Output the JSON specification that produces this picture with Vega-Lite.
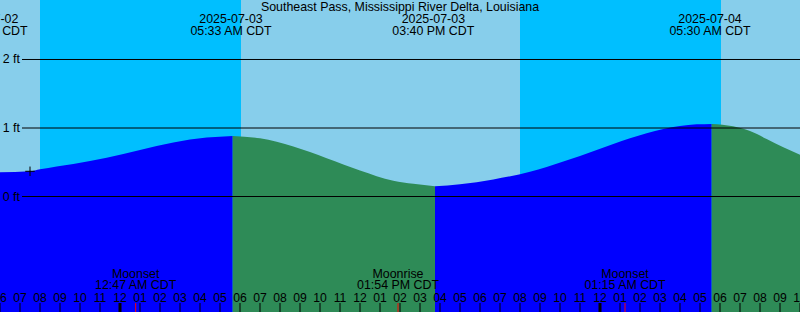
{
  "$schema": "https://vega.github.io/schema/vega-lite/v6.json",
  "width": 800,
  "height": 312,
  "autosize": {"type": "none"},
  "padding": 0,
  "background": "white",
  "datasets": {
    "bands": [
      {"start": "2025-07-02T18:00:00Z", "end": "2025-07-02T20:00:00Z", "kind": "day"},
      {"start": "2025-07-02T20:00:00Z", "end": "2025-07-03T06:03:00Z", "kind": "night"},
      {"start": "2025-07-03T06:03:00Z", "end": "2025-07-03T20:00:00Z", "kind": "day"},
      {"start": "2025-07-03T20:00:00Z", "end": "2025-07-04T06:03:00Z", "kind": "night"},
      {"start": "2025-07-04T06:03:00Z", "end": "2025-07-04T10:00:00Z", "kind": "day"}
    ],
    "tide": [
      {"t": "2025-07-02T18:00:00Z", "h": 0.353, "seg": 1, "kind": "rise"},
      {"t": "2025-07-02T19:30:00Z", "h": 0.368, "seg": 1, "kind": "rise"},
      {"t": "2025-07-02T20:00:00Z", "h": 0.397, "seg": 1, "kind": "rise"},
      {"t": "2025-07-02T21:40:00Z", "h": 0.475, "seg": 1, "kind": "rise"},
      {"t": "2025-07-02T23:20:00Z", "h": 0.567, "seg": 1, "kind": "rise"},
      {"t": "2025-07-03T01:00:00Z", "h": 0.68, "seg": 1, "kind": "rise"},
      {"t": "2025-07-03T02:40:00Z", "h": 0.79, "seg": 1, "kind": "rise"},
      {"t": "2025-07-03T04:20:00Z", "h": 0.86, "seg": 1, "kind": "rise"},
      {"t": "2025-07-03T05:38:00Z", "h": 0.885, "seg": 1, "kind": "rise"},
      {"t": "2025-07-03T05:38:00Z", "h": 0.885, "seg": 2, "kind": "fall"},
      {"t": "2025-07-03T07:00:00Z", "h": 0.85, "seg": 2, "kind": "fall"},
      {"t": "2025-07-03T08:40:00Z", "h": 0.73, "seg": 2, "kind": "fall"},
      {"t": "2025-07-03T10:20:00Z", "h": 0.56, "seg": 2, "kind": "fall"},
      {"t": "2025-07-03T12:00:00Z", "h": 0.38, "seg": 2, "kind": "fall"},
      {"t": "2025-07-03T13:40:00Z", "h": 0.23, "seg": 2, "kind": "fall"},
      {"t": "2025-07-03T14:40:00Z", "h": 0.185, "seg": 2, "kind": "fall"},
      {"t": "2025-07-03T15:45:00Z", "h": 0.15, "seg": 2, "kind": "fall"},
      {"t": "2025-07-03T15:45:00Z", "h": 0.15, "seg": 3, "kind": "rise"},
      {"t": "2025-07-03T17:00:00Z", "h": 0.18, "seg": 3, "kind": "rise"},
      {"t": "2025-07-03T18:40:00Z", "h": 0.25, "seg": 3, "kind": "rise"},
      {"t": "2025-07-03T20:30:00Z", "h": 0.36, "seg": 3, "kind": "rise"},
      {"t": "2025-07-03T22:10:00Z", "h": 0.51, "seg": 3, "kind": "rise"},
      {"t": "2025-07-03T23:50:00Z", "h": 0.68, "seg": 3, "kind": "rise"},
      {"t": "2025-07-04T01:30:00Z", "h": 0.85, "seg": 3, "kind": "rise"},
      {"t": "2025-07-04T03:10:00Z", "h": 0.985, "seg": 3, "kind": "rise"},
      {"t": "2025-07-04T04:50:00Z", "h": 1.053, "seg": 3, "kind": "rise"},
      {"t": "2025-07-04T05:35:00Z", "h": 1.06, "seg": 3, "kind": "rise"},
      {"t": "2025-07-04T05:35:00Z", "h": 1.06, "seg": 4, "kind": "fall"},
      {"t": "2025-07-04T06:39:00Z", "h": 1.025, "seg": 4, "kind": "fall"},
      {"t": "2025-07-04T07:30:00Z", "h": 0.955, "seg": 4, "kind": "fall"},
      {"t": "2025-07-04T08:20:00Z", "h": 0.84, "seg": 4, "kind": "fall"},
      {"t": "2025-07-04T09:10:00Z", "h": 0.72, "seg": 4, "kind": "fall"},
      {"t": "2025-07-04T10:00:00Z", "h": 0.61, "seg": 4, "kind": "fall"}
    ],
    "levels": [
      {"ft": 0, "label": "0 ft"},
      {"ft": 1, "label": "1 ft"},
      {"ft": 2, "label": "2 ft"}
    ],
    "hours": [
      {"t": "2025-07-02T18:00:00Z", "label": "06"},
      {"t": "2025-07-02T19:00:00Z", "label": "07"},
      {"t": "2025-07-02T20:00:00Z", "label": "08"},
      {"t": "2025-07-02T21:00:00Z", "label": "09"},
      {"t": "2025-07-02T22:00:00Z", "label": "10"},
      {"t": "2025-07-02T23:00:00Z", "label": "11"},
      {"t": "2025-07-03T00:00:00Z", "label": "12"},
      {"t": "2025-07-03T01:00:00Z", "label": "01"},
      {"t": "2025-07-03T02:00:00Z", "label": "02"},
      {"t": "2025-07-03T03:00:00Z", "label": "03"},
      {"t": "2025-07-03T04:00:00Z", "label": "04"},
      {"t": "2025-07-03T05:00:00Z", "label": "05"},
      {"t": "2025-07-03T06:00:00Z", "label": "06"},
      {"t": "2025-07-03T07:00:00Z", "label": "07"},
      {"t": "2025-07-03T08:00:00Z", "label": "08"},
      {"t": "2025-07-03T09:00:00Z", "label": "09"},
      {"t": "2025-07-03T10:00:00Z", "label": "10"},
      {"t": "2025-07-03T11:00:00Z", "label": "11"},
      {"t": "2025-07-03T12:00:00Z", "label": "12"},
      {"t": "2025-07-03T13:00:00Z", "label": "01"},
      {"t": "2025-07-03T14:00:00Z", "label": "02"},
      {"t": "2025-07-03T15:00:00Z", "label": "03"},
      {"t": "2025-07-03T16:00:00Z", "label": "04"},
      {"t": "2025-07-03T17:00:00Z", "label": "05"},
      {"t": "2025-07-03T18:00:00Z", "label": "06"},
      {"t": "2025-07-03T19:00:00Z", "label": "07"},
      {"t": "2025-07-03T20:00:00Z", "label": "08"},
      {"t": "2025-07-03T21:00:00Z", "label": "09"},
      {"t": "2025-07-03T22:00:00Z", "label": "10"},
      {"t": "2025-07-03T23:00:00Z", "label": "11"},
      {"t": "2025-07-04T00:00:00Z", "label": "12"},
      {"t": "2025-07-04T01:00:00Z", "label": "01"},
      {"t": "2025-07-04T02:00:00Z", "label": "02"},
      {"t": "2025-07-04T03:00:00Z", "label": "03"},
      {"t": "2025-07-04T04:00:00Z", "label": "04"},
      {"t": "2025-07-04T05:00:00Z", "label": "05"},
      {"t": "2025-07-04T06:00:00Z", "label": "06"},
      {"t": "2025-07-04T07:00:00Z", "label": "07"},
      {"t": "2025-07-04T08:00:00Z", "label": "08"},
      {"t": "2025-07-04T09:00:00Z", "label": "09"},
      {"t": "2025-07-04T10:00:00Z", "label": "10"}
    ],
    "tideEvents": [
      {"t": "2025-07-02T17:20:00Z", "label": "2025-07-02\n05:20 PM CDT"},
      {"t": "2025-07-03T05:33:00Z", "label": "2025-07-03\n05:33 AM CDT"},
      {"t": "2025-07-03T15:40:00Z", "label": "2025-07-03\n03:40 PM CDT"},
      {"t": "2025-07-04T05:30:00Z", "label": "2025-07-04\n05:30 AM CDT"}
    ],
    "moonEvents": [
      {"t": "2025-07-03T00:47:00Z", "label": "Moonset\n12:47 AM CDT"},
      {"t": "2025-07-03T13:54:00Z", "label": "Moonrise\n01:54 PM CDT"},
      {"t": "2025-07-04T01:15:00Z", "label": "Moonset\n01:15 AM CDT"}
    ],
    "midnights": [
      {"t": "2025-07-03T00:00:00Z"},
      {"t": "2025-07-04T00:00:00Z"}
    ],
    "now": [
      {"t": "2025-07-02T19:30:00Z", "h": 0.368}
    ],
    "station": [
      {"t": "2025-07-03T14:00:00Z", "name": "Southeast Pass, Mississippi River Delta, Louisiana"}
    ]
  },
  "layer": [
    {
      "data": {"name": "bands"},
      "mark": {"type": "rect"},
      "encoding": {
        "x": {"field": "start", "type": "temporal", "axis": null,
          "scale": {"type": "utc", "domain": [{"year": 2025, "month": 7, "date": 2, "hours": 18, "utc": true}, {"year": 2025, "month": 7, "date": 4, "hours": 10, "utc": true}]}},
        "x2": {"field": "end"},
        "color": {"field": "kind", "type": "nominal", "legend": null,
          "scale": {"domain": ["day", "night", "rise", "fall"], "range": ["#87CEEB", "#00BFFF", "#0000FF", "#2E8B57"]}}
      }
    },
    {
      "data": {"name": "tide"},
      "mark": {"type": "area", "interpolate": "monotone"},
      "encoding": {
        "x": {"field": "t", "type": "temporal", "axis": null},
        "y": {"field": "h", "type": "quantitative", "axis": null, "scale": {"domain": [-1.6861, 2.8686], "nice": false, "zero": false}},
        "y2": {"datum": -1.6861},
        "detail": {"field": "seg"},
        "color": {"field": "kind", "type": "nominal", "legend": null}
      }
    },
    {
      "data": {"name": "levels"},
      "mark": {"type": "rule", "color": "black", "strokeWidth": 1},
      "encoding": {
        "x": {"datum": {"year": 2025, "month": 7, "date": 2, "hours": 19, "minutes": 6, "utc": true}, "type": "temporal", "axis": null},
        "x2": {"datum": {"year": 2025, "month": 7, "date": 4, "hours": 10, "utc": true}},
        "y": {"field": "ft", "type": "quantitative", "axis": null}
      }
    },
    {
      "data": {"name": "levels"},
      "mark": {"type": "text", "align": "left", "baseline": "middle", "font": "Liberation Sans", "fontSize": 12.4, "color": "black"},
      "encoding": {
        "x": {"datum": {"year": 2025, "month": 7, "date": 2, "hours": 18, "minutes": 8, "utc": true}, "type": "temporal", "axis": null},
        "y": {"field": "ft", "type": "quantitative", "axis": null},
        "text": {"field": "label"}
      }
    },
    {
      "data": {"name": "hours"},
      "mark": {"type": "rule", "color": "black", "strokeWidth": 1},
      "encoding": {
        "x": {"field": "t", "type": "temporal", "axis": null},
        "y": {"datum": -1.6861, "type": "quantitative", "axis": null},
        "y2": {"datum": -1.555}
      }
    },
    {
      "data": {"name": "hours"},
      "mark": {"type": "text", "align": "center", "baseline": "alphabetic", "font": "Liberation Sans", "fontSize": 12.2, "color": "black"},
      "encoding": {
        "x": {"field": "t", "type": "temporal", "axis": null},
        "y": {"datum": -1.5358, "type": "quantitative", "axis": null},
        "text": {"field": "label"}
      }
    },
    {
      "data": {"name": "moonEvents"},
      "mark": {"type": "rule", "color": "#FF0000", "strokeWidth": 1},
      "encoding": {
        "x": {"field": "t", "type": "temporal", "axis": null},
        "y": {"datum": -1.6861, "type": "quantitative", "axis": null},
        "y2": {"datum": -1.555}
      }
    },
    {
      "data": {"name": "midnights"},
      "mark": {"type": "rule", "color": "black", "strokeWidth": 3},
      "encoding": {
        "x": {"field": "t", "type": "temporal", "axis": null},
        "y": {"datum": -1.6861, "type": "quantitative", "axis": null},
        "y2": {"datum": -1.555}
      }
    },
    {
      "data": {"name": "tideEvents"},
      "mark": {"type": "text", "align": "center", "baseline": "middle", "lineBreak": "\n", "lineHeight": 12, "font": "Liberation Sans", "fontSize": 12.4, "color": "black"},
      "encoding": {
        "x": {"field": "t", "type": "temporal", "axis": null},
        "y": {"datum": 2.5912, "type": "quantitative", "axis": null},
        "text": {"field": "label"}
      }
    },
    {
      "data": {"name": "moonEvents"},
      "mark": {"type": "text", "align": "center", "baseline": "middle", "lineBreak": "\n", "lineHeight": 11.5, "font": "Liberation Sans", "fontSize": 12.4, "color": "black"},
      "encoding": {
        "x": {"field": "t", "type": "temporal", "axis": null},
        "y": {"datum": -1.1287, "type": "quantitative", "axis": null},
        "text": {"field": "label"}
      }
    },
    {
      "data": {"name": "station"},
      "mark": {"type": "text", "align": "center", "baseline": "middle", "font": "Liberation Sans", "fontSize": 12.4, "color": "black"},
      "encoding": {
        "x": {"field": "t", "type": "temporal", "axis": null},
        "y": {"datum": 2.762, "type": "quantitative", "axis": null},
        "text": {"field": "name"}
      }
    },
    {
      "data": {"name": "now"},
      "mark": {"type": "point", "shape": "M-1,0H1M0,-1V1", "filled": false, "stroke": "black", "strokeWidth": 1, "size": 90, "opacity": 1},
      "encoding": {
        "x": {"field": "t", "type": "temporal", "axis": null},
        "y": {"field": "h", "type": "quantitative", "axis": null}
      }
    }
  ],
  "config": {"view": {"stroke": null}}
}
